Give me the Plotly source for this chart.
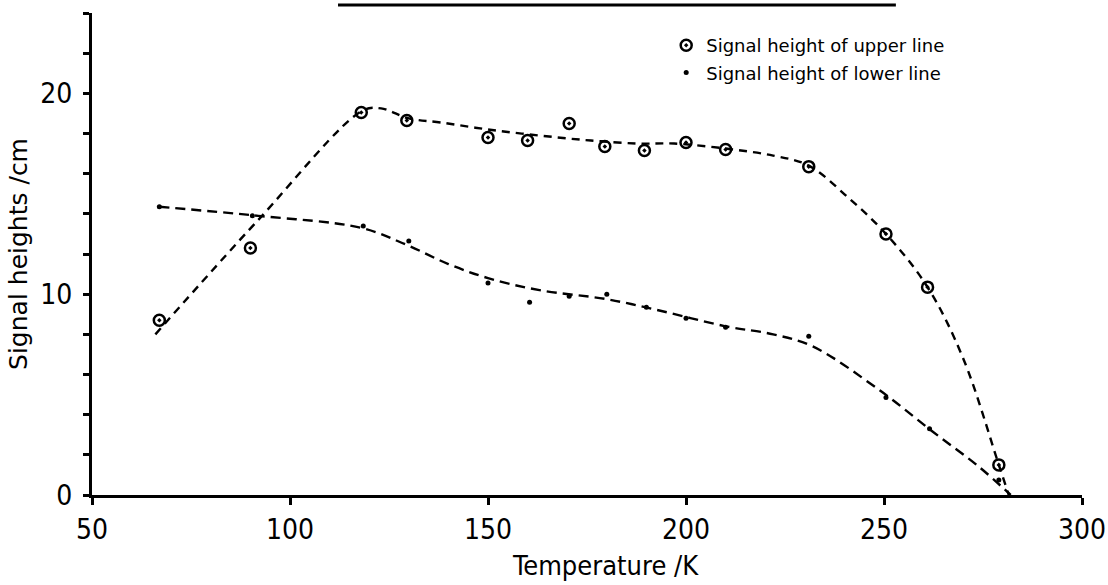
import plotly.graph_objects as go

# Measured signal heights (cm) versus temperature (K)
temp_upper = [67, 90, 118, 129.5, 150, 160, 170.5, 179.5, 189.5, 200, 210, 231, 250.5, 261, 279]
height_upper = [8.7, 12.3, 19.05, 18.65, 17.8, 17.65, 18.5, 17.35, 17.15, 17.55, 17.2, 16.35, 13.0, 10.35, 1.5]

temp_lower = [67, 90.5, 118.5, 130, 150, 160.5, 170.5, 180, 190, 200, 210, 231, 250.5, 261.5, 279]
height_lower = [14.35, 13.9, 13.4, 12.65, 10.55, 9.6, 9.9, 10.0, 9.35, 8.8, 8.35, 7.9, 4.85, 3.3, 0.75]

# Hand-drawn trend curves through the data
curve_upper_t = [66, 92, 118.4, 123, 130, 138, 150, 163, 176, 188, 197, 210, 222, 231, 241, 250.5, 261, 270, 279, 281.5]
curve_upper_h = [8.0, 13.7, 19.15, 19.25, 18.75, 18.55, 18.2, 17.9, 17.65, 17.5, 17.5, 17.25, 16.9, 16.4, 14.8, 13.0, 10.35, 6.8, 1.5, 0.0]

curve_lower_t = [67, 92, 118, 129.5, 140, 150, 163, 180, 193, 210, 222, 232, 249, 262, 274, 282]
curve_lower_h = [14.35, 13.9, 13.3, 12.45, 11.5, 10.8, 10.2, 9.75, 9.2, 8.4, 8.0, 7.4, 5.2, 3.2, 1.4, 0.0]

x_ticks = [50, 100, 150, 200, 250, 300]
y_ticks = [0, 10, 20]

COND = "DejaVu Sans Condensed, DejaVu Sans, sans-serif"
WIDE = "DejaVu Sans, sans-serif"
INK = "black"

fig = go.Figure()

fig.add_trace(go.Scatter(
    x=curve_upper_t, y=curve_upper_h, mode="lines", showlegend=False,
    line=dict(color=INK, width=2.4, dash="8px,6px", shape="spline", smoothing=1.0),
    hoverinfo="skip",
))
fig.add_trace(go.Scatter(
    x=curve_lower_t, y=curve_lower_h, mode="lines", showlegend=False,
    line=dict(color=INK, width=2.4, dash="10px,6px", shape="spline", smoothing=1.0),
    hoverinfo="skip",
))

fig.add_trace(go.Scatter(
    x=temp_upper, y=height_upper, mode="markers",
    name="Signal height of upper line", legendgroup="u",
    marker=dict(symbol="circle-open-dot", size=11, color=INK, line=dict(color=INK, width=2.5)),
))
fig.add_trace(go.Scatter(
    x=temp_lower, y=height_lower, mode="markers",
    name="Signal height of lower line", legendgroup="l",
    marker=dict(symbol="circle", size=5, color=INK),
))

fig.update_layout(
    width=1108, height=585,
    margin=dict(l=92, r=26, t=13, b=90),
    paper_bgcolor="white", plot_bgcolor="white",
    font=dict(family=COND, color=INK, size=17),
    legend=dict(
        x=0.580, y=0.971, xanchor="left", yanchor="top",
        bgcolor="rgba(0,0,0,0)", tracegroupgap=1,
        font=dict(family=WIDE, size=18, color=INK),
    ),
    xaxis=dict(
        range=[50, 300], tickvals=x_ticks, ticktext=[str(v) for v in x_ticks],
        showgrid=False, zeroline=False, showline=True, linecolor=INK, linewidth=3,
        ticks="outside", ticklen=7, tickwidth=2.5, tickcolor=INK,
        tickfont=dict(family=COND, size=28, color=INK), automargin=False,
    ),
    yaxis=dict(
        range=[0, 24], tickvals=y_ticks, ticktext=[str(v) for v in y_ticks],
        showgrid=False, zeroline=False, showline=True, linecolor=INK, linewidth=3,
        ticks="outside", ticklen=6, tickwidth=2.5, tickcolor=INK,
        minor=dict(dtick=2, ticks="outside", ticklen=6, tickwidth=2.5, tickcolor=INK, showgrid=False),
        tickfont=dict(family=COND, size=28, color=INK), ticklabelstandoff=5,
        title=dict(text="Signal heights /cm", font=dict(family=WIDE, size=25, color=INK), standoff=6),
        automargin=False,
    ),
    annotations=[dict(
        text="Temperature /K", x=0.519, y=-0.147, xref="paper", yref="paper",
        xanchor="center", yanchor="middle", showarrow=False,
        font=dict(family=COND, size=27, color=INK),
    )],
    shapes=[dict(
        type="line", xref="paper", yref="paper",
        x0=0.2485, x1=0.812, y0=1.0166, y1=1.0166,
        line=dict(color=INK, width=3),
    )],
)

fig.write_html("out.html")
